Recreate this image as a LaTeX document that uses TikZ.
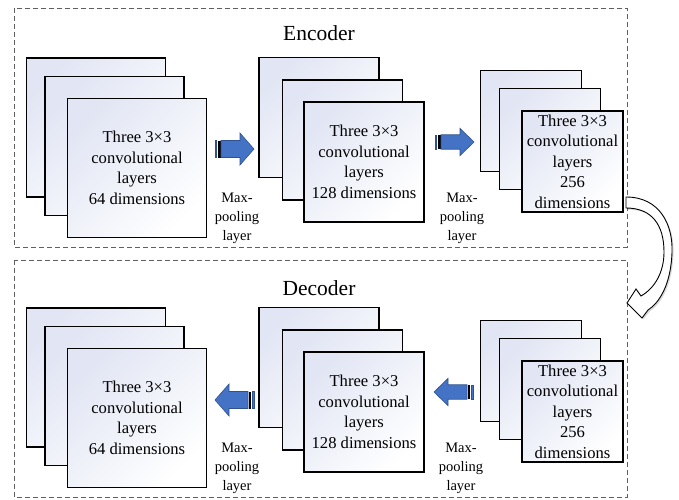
\documentclass[tikz,border=0pt]{standalone}
\usepackage{fontspec}
\setmainfont{Liberation Serif}
\usetikzlibrary{shadows}
\definecolor{shadeblue}{RGB}{226,230,244}
\definecolor{arrblue}{RGB}{68,114,196}
\definecolor{arrline}{RGB}{47,82,143}
\definecolor{dashgray}{RGB}{95,95,95}
\newcommand\myblkarrow[3]{%
\begin{scope}[shift={#1}, xscale=#2, yscale=#3]
 \filldraw[fill=arrblue, draw=arrline, line width=0.5pt] (0,-8.5) rectangle (1.5,8.5);
 \fill[black] (3,-8.5) rectangle (5.5,8.5);
 \filldraw[fill=arrblue, draw=arrline, line width=0.6pt] (6,-8.5) -- (25,-8.5) -- (25,-16) -- (39,0) -- (25,16) -- (25,8.5) -- (6,8.5) -- cycle;
\end{scope}}
\begin{document}
\begin{tikzpicture}[x=1pt, y=-1pt,
  layer/.style={draw=black, line width=1.5pt, top color=shadeblue, bottom color=white, shading angle=45,
     inner sep=1pt, align=center, font=\fontsize{16.6}{20.5}\selectfont},
  big/.style={layer, minimum width=139pt, minimum height=139pt},
  mid/.style={layer, minimum width=120pt, minimum height=120pt},
  small/.style={layer, minimum width=101pt, minimum height=101pt},
  frame/.style={draw=dashgray, line width=0.7pt, dash pattern=on 5pt off 3pt},
  title/.style={font=\fontsize{21.5}{24}\selectfont},
  pool/.style={align=center, font=\fontsize{14.5}{19}\selectfont}]
\useasboundingbox (0,0) rectangle (679,499);
% frames
\draw[frame] (14,8) rectangle (627,247);
\draw[frame] (14,260) rectangle (627,497);
\node[title] (enc) at (319,33) {Encoder};
\node[title] (dec) at (319,288) {Decoder};
% encoder stacks
\node[big] (e1a) at (96,127.5) {};
\node[big] (e1b) at (114.5,146) {};
\node[big] (e1c) at (137,168) {Three 3×3\\convolutional\\layers\\64 dimensions};
\node[mid] (e2a) at (319,117.5) {};
\node[mid] (e2b) at (342.5,140) {};
\node[mid] (e2c) at (364,162) {Three 3×3\\convolutional\\layers\\128 dimensions};
\node[small] (e3a) at (531,121) {};
\node[small] (e3b) at (550,139) {};
\node[small] (e3c) at (572.5,161.5) {Three 3×3\\convolutional\\layers\\256\\dimensions};
% decoder stacks
\node[big] (d1a) at (96,377.5) {};
\node[big] (d1b) at (114.5,396) {};
\node[big] (d1c) at (137,418) {Three 3×3\\convolutional\\layers\\64 dimensions};
\node[mid] (d2a) at (319,367.5) {};
\node[mid] (d2b) at (342.5,390) {};
\node[mid] (d2c) at (364,412) {Three 3×3\\convolutional\\layers\\128 dimensions};
\node[small] (d3a) at (531,371) {};
\node[small] (d3b) at (550,389) {};
\node[small] (d3c) at (572.5,411.5) {Three 3×3\\convolutional\\layers\\256\\dimensions};
% pooling labels
\node[pool] (p1) at (237,218) {Max-\\pooling\\layer};
\node[pool] (p2) at (462,218) {Max-\\pooling\\layer};
\node[pool] (p3) at (237,468) {Max-\\pooling\\layer};
\node[pool] (p4) at (461,468) {Max-\\pooling\\layer};
% block arrows
\myblkarrow{(215,149)}{1}{1}
\myblkarrow{(435,142)}{1}{0.85}
\myblkarrow{(254,400)}{-1}{1}
\myblkarrow{(473,392)}{-1}{0.85}
% curved transfer arrow
\filldraw[fill=white, draw=black, line width=0.9pt,
  drop shadow={opacity=0.3, shadow xshift=1.5pt, shadow yshift=-1.5pt}]
 (626,197) .. controls (660,197) and (673,225) .. (672,252)
 .. controls (671,285) and (659,303) .. (648,310)
 -- (642,318) -- (627,303) -- (636,289) -- (641,296)
 .. controls (655,288) and (664,272) .. (664,252)
 .. controls (664,225) and (652,208) .. (626,208) -- cycle;
\end{tikzpicture}
\end{document}
